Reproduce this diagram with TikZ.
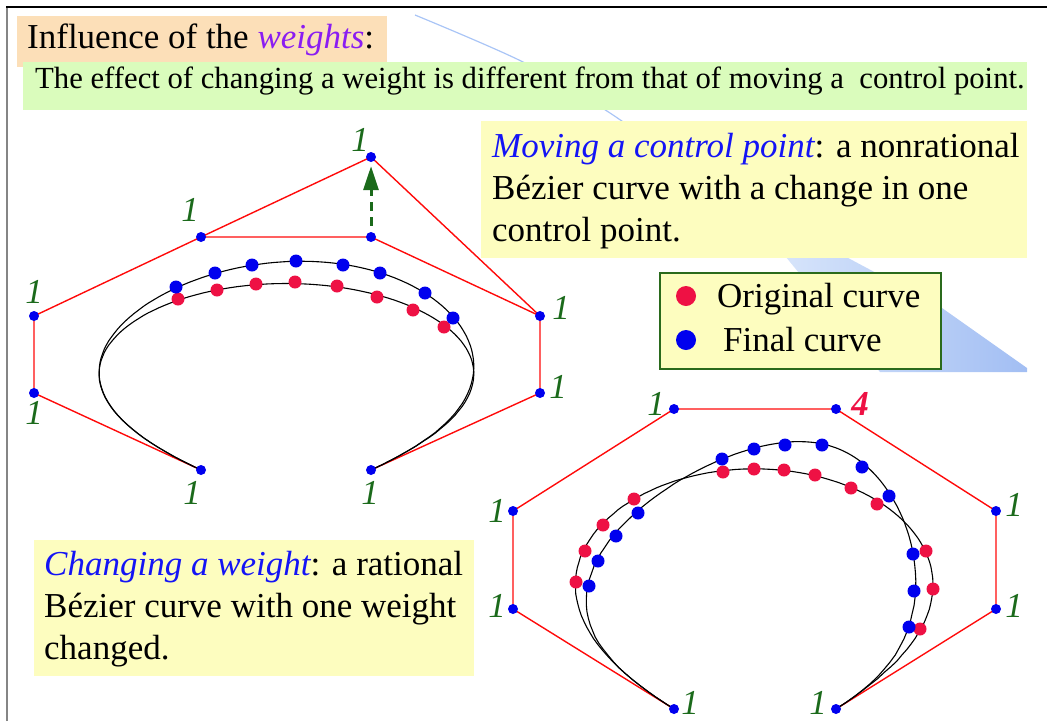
\documentclass[tikz,border=0pt]{standalone}
\usepackage{xcolor}
\usepackage{fontspec}
\setmainfont{Liberation Serif}
\usepackage{tikz}
\usetikzlibrary{arrows.meta,positioning,calc}
\definecolor{TitleOrange}{HTML}{FCDFB8}
\definecolor{NoteGreen}{HTML}{DAFCBC}
\definecolor{NoteYellow}{HTML}{FDFDBF}
\definecolor{LegendGreen}{HTML}{2A6A1C}
\definecolor{WeightGreen}{HTML}{1B6A1B}
\definecolor{WeightPurple}{HTML}{8A1CF2}
\definecolor{HeadBlue}{HTML}{1414F5}
\definecolor{PtBlue}{HTML}{0000EE}
\definecolor{DotRed}{HTML}{EE1144}
\definecolor{PolyRed}{HTML}{FF0A0A}
\definecolor{BandBlue}{HTML}{A9C5F6}
\definecolor{BandLight}{HTML}{D9E6FB}
\definecolor{BandDark}{HTML}{A2BEF3}
\definecolor{FrameGray}{HTML}{858585}

\begin{document}
\begin{tikzpicture}[x=1pt,y=-1pt,
  txt/.style={font=\fontsize{35}{42}\selectfont, inner sep=0pt, anchor=base west},
  smalltxt/.style={font=\fontsize{30.7}{36}\selectfont, inner sep=0pt, anchor=base west},
  panel/.style={rectangle, inner sep=0pt, anchor=north west},
  cpt/.style={circle, fill=PtBlue, inner sep=0pt, minimum size=10pt},
  wlab/.style={font=\fontsize{35}{35}\selectfont\itshape, text=WeightGreen, inner sep=0pt},
  poly/.style={draw=PolyRed, line width=1.4pt},
  curve/.style={draw=black, line width=1.1pt},
  movearrow/.style={draw=WeightGreen, line width=3pt, dash pattern=on 9pt off 6pt,
                    -{Triangle[length=24pt,width=15pt]}},
  declare function={
    bz0(\t)=(1-\t)^7;             bz1(\t)=7*\t*(1-\t)^6;
    bz2(\t)=21*\t^2*(1-\t)^5;     bz3(\t)=35*\t^3*(1-\t)^4;
    bz4(\t)=35*\t^4*(1-\t)^3;     bz5(\t)=21*\t^5*(1-\t)^2;
    bz6(\t)=7*\t^6*(1-\t);        bz7(\t)=\t^7;
    lx(\t)=201*bz0(\t)+34*bz1(\t)+34*bz2(\t)+201*bz3(\t)+371*bz4(\t)+540*bz5(\t)+540*bz6(\t)+371*bz7(\t);
    ly(\t,\h)=470*bz0(\t)+393*bz1(\t)+316*bz2(\t)+237*bz3(\t)+\h*bz4(\t)+316*bz5(\t)+393*bz6(\t)+470*bz7(\t);
    rw(\t,\w)=1+(\w-1)*bz4(\t);
    rx(\t,\w)=(674*bz0(\t)+513*bz1(\t)+513*bz2(\t)+674*bz3(\t)+\w*836*bz4(\t)+996*bz5(\t)+996*bz6(\t)+836*bz7(\t))/rw(\t,\w);
    ry(\t,\w)=(709*bz0(\t)+609*bz1(\t)+511*bz2(\t)+409*bz3(\t)+\w*409*bz4(\t)+511*bz5(\t)+609*bz6(\t)+709*bz7(\t))/rw(\t,\w);
  }]
  \useasboundingbox (0,0) rectangle (1047,721);

  % slide background
  \draw[BandBlue, line width=1.2pt] plot[smooth] coordinates {(415,15) (523,62) (613,115) (700,180) (790,258)};
  \shade[left color=BandLight, right color=BandDark]
    (772,240) -- (880,372) -- (1027,372) -- (1027,368) -- (942,308) -- (850,259) -- (814,240) -- cycle;
  \draw[FrameGray, line width=2pt] (7,721) -- (7,7);
  \draw[black, line width=1.5pt] (6,7) -- (1047,7);

  % headings
  \node[panel, fill=TitleOrange, minimum width=370pt, minimum height=51pt] (title) at (17,16) {};
  \node[txt] (titletxt) at (27,48) {Influence of the \textcolor{WeightPurple}{\itshape weights}:};
  \node[panel, fill=NoteGreen, minimum width=1004pt, minimum height=48pt] (note) at (23,62) {};
  \node[smalltxt] (notetxt) at (35,88) {The effect of changing a weight is different from that of moving a~ control point.};

  % explanations
  \node[panel, fill=NoteYellow, minimum width=546pt, minimum height=137pt] (moving) at (481,121) {};
  \node[txt] (moving1) at (492,157) {\textcolor{HeadBlue}{\itshape Moving a control point}: a nonrational};
  \node[txt] (moving2) at (492,199) {Bézier curve with a change in one};
  \node[txt] (moving3) at (492,241) {control point.};
  \node[panel, fill=NoteYellow, minimum width=440pt, minimum height=136pt] (changing) at (34,540) {};
  \node[txt] (changing1) at (44,575) {\textcolor{HeadBlue}{\itshape Changing a weight}: a rational};
  \node[txt] (changing2) at (44,617) {Bézier curve with one weight};
  \node[txt] (changing3) at (44,659) {changed.};

  % legend
  \node[panel, fill=NoteYellow, draw=LegendGreen, line width=1.5pt, minimum width=281pt, minimum height=96pt] (legend) at (659,272) {};
  \node[circle, fill=DotRed, inner sep=0pt, minimum size=20pt] (origdot) at (686,296) {};
  \node[txt] (origtxt) at (717,307) {Original curve};
  \node[circle, fill=PtBlue, inner sep=0pt, minimum size=20pt] (findot) at (686,340) {};
  \node[txt] (fintxt) at (723,351) {Final curve};

  % moving a control point
  \foreach \n/\x/\y in {0/201/470,1/34/393,2/34/316,3/201/237,4/371/237,5/540/316,6/540/393,7/371/470,8/371/157}
    \coordinate (l\n) at (\x,\y);
  \draw[poly] (l0) -- (l1) -- (l2) -- (l3) -- (l4) -- (l5) -- (l6) -- (l7);
  \draw[poly] (l3) -- (l8) -- (l5);
  \draw[curve] plot[domain=0:1, samples=120, variable=\t] ({lx(\t)},{ly(\t,237)});
  \draw[curve] plot[domain=0:1, samples=120, variable=\t] ({lx(\t)},{ly(\t,157)});
  \foreach \x/\y in {178/299,217/290,256/284,295/282,337/286,377/297,413/310,444/327}
    \fill[DotRed] (\x,\y) circle (6.5pt);
  \foreach \x/\y in {176/287,215/273,252/265,296/261,343/265,380/273,425/293,453/318}
    \fill[PtBlue] (\x,\y) circle (6.5pt);
  \foreach \n in {0,...,8}
    \node[cpt] (lp\n) at (l\n) {};
  \draw[movearrow, shorten <=6pt, shorten >=4pt] (lp4) -- (lp8);
  \foreach \n/\x/\y in {0/192/493,1/34/413,2/34/292,3/190/210,5/561/308,6/558/387,7/370/493,8/360/140}
    \node[wlab] (lw\n) at (\x,\y) {1};

  % changing a weight
  \foreach \n/\x/\y in {0/674/709,1/513/609,2/513/511,3/674/409,4/836/409,5/996/511,6/996/609,7/836/709}
    \coordinate (r\n) at (\x,\y);
  \draw[poly] (r0) -- (r1) -- (r2) -- (r3) -- (r4) -- (r5) -- (r6) -- (r7);
  \draw[curve] plot[domain=0:1, samples=120, variable=\t] ({rx(\t,1)},{ry(\t,1)});
  \draw[curve] plot[domain=0:1, samples=120, variable=\t] ({rx(\t,4)},{ry(\t,4)});
  \foreach \x/\y in {576/582,585/551,603/525,634/499,723/472,754/469,784/470,815/475,851/488,877/504,926/551,933/589,920/629}
    \fill[DotRed] (\x,\y) circle (6.5pt);
  \foreach \x/\y in {589/586,598/561,616/536,638/513,722/459,754/449,785/445,822/445,862/467,889/496,913/554,914/591,909/627}
    \fill[PtBlue] (\x,\y) circle (6.5pt);
  \foreach \n in {0,...,7}
    \node[cpt] (rp\n) at (r\n) {};
  \foreach \n/\x/\y in {0/690/703,1/497/606,2/497/511,3/656/404,5/1014/505,6/1014/606,7/818/703}
    \node[wlab] (rw\n) at (\x,\y) {1};
  \node[wlab, font=\fontsize{35}{35}\selectfont\bfseries\itshape, text=DotRed] (rw4) at (860,404) {4};
\end{tikzpicture}
\end{document}
